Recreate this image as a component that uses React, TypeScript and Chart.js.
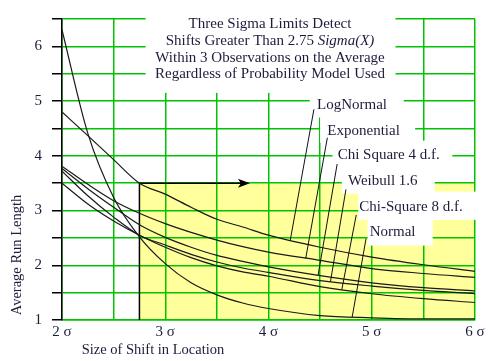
import React, { useEffect, useRef } from "react";
import { Chart, registerables } from "chart.js";

Chart.register(...registerables);

// ---- data ----
const shiftSigma = [2, 2.25, 2.5, 2.75, 3, 3.25, 3.5, 3.75, 4, 4.5, 5, 5.5, 6];
const seriesNames = ["LogNormal", "Exponential", "Chi Square 4 d.f.", "Weibull 1.6", "Chi-Square 8 d.f.", "Normal"];
const arlLogNormal = [4.80, 4.37, 3.93, 3.50, 3.30, 3.06, 2.84, 2.70, 2.55, 2.33, 2.15, 2.01, 1.89];
const arlExponential = [3.81, 3.48, 3.18, 2.95, 2.76, 2.60, 2.46, 2.34, 2.24, 2.09, 1.94, 1.85, 1.78];
const arlChiSq4 = [3.77, 3.40, 3.06, 2.74, 2.51, 2.33, 2.18, 2.07, 1.97, 1.81, 1.68, 1.59, 1.53];
const arlWeibull = [3.72, 3.27, 2.88, 2.55, 2.37, 2.20, 2.06, 1.95, 1.87, 1.72, 1.62, 1.54, 1.48];
const arlChiSq8 = [3.50, 3.12, 2.81, 2.55, 2.33, 2.14, 1.99, 1.88, 1.80, 1.61, 1.48, 1.39, 1.32];
const arlNormal = [6.30, 4.41, 3.24, 2.52, 2.03, 1.68, 1.46, 1.31, 1.21, 1.08, 1.04, 1.02, 1.02];
const xTickLabels = ["2 σ", "3 σ", "4 σ", "5 σ", "6 σ"];
const yTickLabels = ["1", "2", "3", "4", "5", "6"];
const titleLines = ["Three Sigma Limits Detect", "Shifts Greater Than 2.75 ", "Within 3 Observations on the Average", "Regardless of Probability Model Used"];
const titleItalic = "Sigma(X)";
const xTitle = "Size of Shift in Location";
const yTitle = "Average Run Length";

const allSeries = [arlLogNormal, arlExponential, arlChiSq4, arlWeibull, arlChiSq8, arlNormal];

// ---- annotation layout (data coordinates) ----
const FONT = "'Liberation Serif', 'DejaVu Serif', serif";
const TEXT = "#1c1c3c";
const GREEN = "#00c400";
const YELLOW = "#ffff9c";
// leader line: [x label end, y label end, x on curve, y on curve]
const leaders = [
  [4.44, 4.85, 4.21, 2.45],
  [4.57, 4.33, 4.36, 2.12],
  [4.665, 3.85, 4.48, 1.815],
  [4.75, 3.385, 4.60, 1.70],
  [4.85, 2.92, 4.71, 1.555],
  [4.945, 2.49, 4.81, 1.05],
];
// label text anchor: [x left, y center]
const labelPos = [
  [4.47, 4.92],
  [4.57, 4.455],
  [4.67, 4.01],
  [4.77, 3.53],
  [4.88, 3.06],
  [4.98, 2.60],
];
// white boxes [x1, y1(top), x2, y2(bottom)]
const whiteBoxes = [
  [2.81, 6.6, 5.23, 5.15],
  [4.40, 5.16, 5.31, 4.70],
  [4.50, 4.70, 5.42, 4.24],
  [4.62, 4.24, 5.78, 3.77],
  [4.71, 3.77, 5.61, 3.31],
  [4.87, 3.31, 6.02, 2.83],
  [4.96, 2.83, 5.59, 2.36],
];

const annotPlugin = {
  id: "annot",
  beforeDraw(chart: any) {
    const { ctx, scales } = chart;
    const x = scales.x, y = scales.y;
    ctx.save();
    ctx.fillStyle = YELLOW;
    const x1 = x.getPixelForValue(2.75), x2 = x.getPixelForValue(6);
    const y1 = y.getPixelForValue(3.5), y2 = y.getPixelForValue(1);
    ctx.fillRect(x1, y1, x2 - x1, y2 - y1);
    ctx.restore();
  },
  beforeDatasetsDraw(chart: any) {
    const { ctx, scales } = chart;
    const x = scales.x, y = scales.y;
    ctx.save();
    ctx.fillStyle = "#ffffff";
    for (const b of whiteBoxes) {
      const px1 = x.getPixelForValue(b[0]), px2 = x.getPixelForValue(b[2]);
      const py1 = Math.max(0, y.getPixelForValue(b[1])), py2 = y.getPixelForValue(b[3]);
      ctx.fillRect(px1, py1 - 2, px2 - px1, py2 - py1 + 2);
    }
    // yellow region border and arrow
    ctx.strokeStyle = "#000";
    ctx.lineWidth = 1.5;
    const lx = x.getPixelForValue(2.75);
    const ty = y.getPixelForValue(3.5);
    const by = y.getPixelForValue(1);
    const ax = x.getPixelForValue(3.82);
    ctx.beginPath();
    ctx.moveTo(lx, by);
    ctx.lineTo(lx, ty);
    ctx.lineTo(ax - 6, ty);
    ctx.stroke();
    ctx.fillStyle = "#000";
    ctx.beginPath();
    ctx.moveTo(ax, ty);
    ctx.lineTo(ax - 12, ty - 4.5);
    ctx.lineTo(ax - 9, ty);
    ctx.lineTo(ax - 12, ty + 4.5);
    ctx.closePath();
    ctx.fill();
    ctx.restore();
  },
  afterDatasetsDraw(chart: any) {
    const { ctx, scales } = chart;
    const x = scales.x, y = scales.y;
    ctx.save();
    ctx.strokeStyle = "#111";
    ctx.lineWidth = 1;
    for (const l of leaders) {
      ctx.beginPath();
      ctx.moveTo(x.getPixelForValue(l[0]), y.getPixelForValue(l[1]));
      ctx.lineTo(x.getPixelForValue(l[2]), y.getPixelForValue(l[3]));
      ctx.stroke();
    }
    ctx.fillStyle = TEXT;
    ctx.font = `15px ${FONT}`;
    ctx.textBaseline = "middle";
    ctx.textAlign = "left";
    seriesNames.forEach((n, i) => {
      ctx.fillText(n, x.getPixelForValue(labelPos[i][0]), y.getPixelForValue(labelPos[i][1]));
    });
    // title
    const cx = 270;
    const lineY = [24, 41, 58, 74];
    ctx.textAlign = "center";
    titleLines.forEach((t, i) => {
      if (i === 1) {
        ctx.font = `15px ${FONT}`;
        const w1 = ctx.measureText(t).width;
        ctx.font = `italic 15px ${FONT}`;
        const w2 = ctx.measureText(titleItalic).width;
        const start = cx - (w1 + w2) / 2;
        ctx.textAlign = "left";
        ctx.font = `15px ${FONT}`;
        ctx.fillText(t, start, lineY[i]);
        ctx.font = `italic 15px ${FONT}`;
        ctx.fillText(titleItalic, start + w1, lineY[i]);
        ctx.textAlign = "center";
        ctx.font = `15px ${FONT}`;
      } else {
        ctx.font = `15px ${FONT}`;
        ctx.fillText(t, cx, lineY[i]);
      }
    });
    // axis titles
    ctx.font = `14.5px ${FONT}`;
    ctx.textAlign = "center";
    ctx.fillText(xTitle, 153, 350);
    ctx.save();
    ctx.translate(17, 255);
    ctx.rotate(-Math.PI / 2);
    ctx.fillText(yTitle, 0, 0);
    ctx.restore();
    ctx.restore();
  },
};

export default function App() {
  const ref = useRef<HTMLCanvasElement | null>(null);
  useEffect(() => {
    if (!ref.current) return;
    const datasets = allSeries.map((s, i) => ({
      label: seriesNames[i],
      data: shiftSigma.map((v, j) => ({ x: v, y: s[j] })),
      borderColor: "#1a1a1a",
      borderWidth: 1.2,
      pointRadius: 0,
      fill: false,
      cubicInterpolationMode: "monotone" as const,
    }));
    const chart = new Chart(ref.current, {
      type: "line",
      data: { datasets },
      options: {
        animation: false,
        responsive: false,
        devicePixelRatio: 1,
        layout: { padding: { top: 11, right: 18, left: 0, bottom: 0 } },
        plugins: { legend: { display: false }, tooltip: { enabled: false } },
        scales: {
          x: {
            type: "linear",
            min: 2,
            max: 6,
            ticks: {
              stepSize: 0.5,
              autoSkip: false,
              maxRotation: 0,
              padding: 3,
              color: TEXT,
              font: { family: FONT, size: 15 },
              callback: (v: any) => (Number.isInteger(v) ? xTickLabels[v - 2] : ""),
            },
            grid: { color: GREEN, lineWidth: 1.5, drawTicks: false },
            border: { color: GREEN, width: 1.5 },
            afterFit: (s: any) => { s.height = 41; },
          },
          y: {
            type: "linear",
            min: 1,
            max: 6.5,
            ticks: {
              stepSize: 0.5,
              autoSkip: false,
              padding: 10,
              color: TEXT,
              font: { family: FONT, size: 15 },
              callback: (v: any) => (Number.isInteger(v) ? yTickLabels[v - 1] : ""),
            },
            grid: { color: GREEN, lineWidth: 1.5, tickColor: "#000", tickLength: 10 },
            border: { color: "#000", width: 1.5 },
            afterFit: (s: any) => { s.width = 62; },
          },
        },
      },
      plugins: [annotPlugin],
    });
    return () => chart.destroy();
  }, []);
  return (
    <div style={{ position: "absolute", left: 0, top: 0, width: 493, height: 361, background: "#fff" }}>
      <canvas ref={ref} width={493} height={361} />
    </div>
  );
}
